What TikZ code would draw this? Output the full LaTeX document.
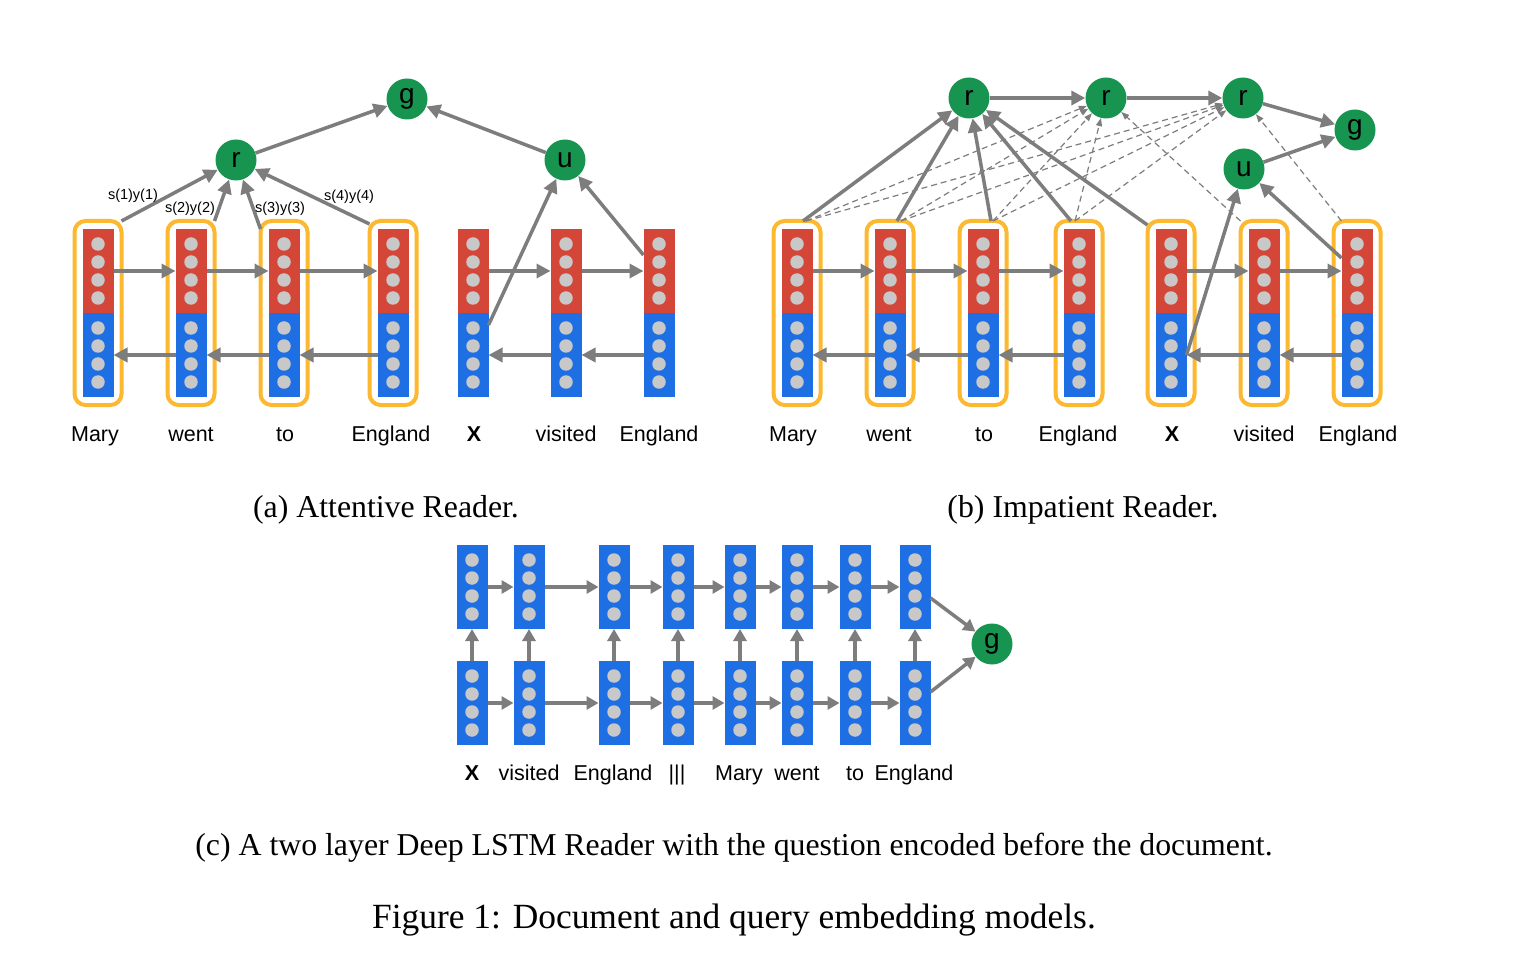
\documentclass[tikz,border=0pt]{standalone}
\usepackage{fontspec}
\setmainfont{Liberation Serif}
\setsansfont{Liberation Sans}
\usetikzlibrary{arrows.meta}
\definecolor{cred}{RGB}{212,70,56}
\definecolor{cblue}{RGB}{30,111,228}
\definecolor{cdot}{RGB}{200,200,200}
\definecolor{corange}{RGB}{252,184,46}
\definecolor{cgreen}{RGB}{22,148,80}
\definecolor{carrow}{RGB}{125,125,125}
\newcommand\fsz[1]{\fontsize{#1}{#1}\selectfont}
\tikzset{
 redbar/.style={rectangle,fill=cred,minimum width=31pt,minimum height=84pt,inner sep=0pt,outer sep=0pt},
 bluebar/.style={redbar,fill=cblue},
 dotc/.style={circle,fill=cdot,minimum size=13.5pt,inner sep=0pt},
 obox/.style={rectangle,rounded corners=11pt,draw=corange,line width=4pt,minimum width=47pt,minimum height=184pt,inner sep=0pt,outer sep=0pt},
 gnode/.style={circle,fill=cgreen,minimum size=41pt,inner sep=0pt,font=\sffamily\fsz{28}},
 arr/.style={draw=carrow,line width=3.5pt,-{Triangle[length=14pt,width=14pt]}},
 sarr/.style={draw=carrow,line width=3.5pt,-{Triangle[length=12pt,width=13pt]}},
 darr/.style={draw=carrow,line width=1.2pt,dash pattern=on 6pt off 4pt,-{Triangle[length=8pt,width=6pt]}},
 word/.style={font=\sffamily\fsz{21.5},anchor=base,inner sep=0pt},
 slab/.style={font=\sffamily\fsz{14.5},inner sep=0pt},
 captxt/.style={font=\fsz{31.8},anchor=base,inner sep=0pt},
}
% two-colour column: name, x
\newcommand\bicol[2]{%
  \node[redbar] (#1-r) at (#2,271) {};
  \node[bluebar] (#1-b) at (#2,355) {};
  \foreach \yy in {244,262,280,298,328,346,364,382} \node[dotc] (#1-d\yy) at (#2,\yy) {};
}
% deep lstm column: name, x
\newcommand\bluecol[2]{%
  \node[bluebar] (#1-t) at (#2,587) {};
  \node[bluebar] (#1-b) at (#2,703) {};
  \foreach \yy in {560,578,596,614,676,694,712,730} \node[dotc] (#1-d\yy) at (#2,\yy) {};
}
\begin{document}
\begin{tikzpicture}[x=1pt,y=-1pt]
\useasboundingbox (0,0) rectangle (1524,976);
\fill[white] (0,0) rectangle (1524,976);

% ================= (a) Attentive Reader =================
\foreach \n/\x in {a1/98,a2/191,a3/284,a4/393} \node[obox] (\n-box) at (\x,313) {};
\bicol{a1}{98}\bicol{a2}{191}\bicol{a3}{284}\bicol{a4}{393}
\bicol{a5}{473}\bicol{a6}{566}\bicol{a7}{659}

\foreach \p/\q in {a1/a2,a2/a3,a3/a4,a5/a6,a6/a7}{
  \draw[arr] (\p-r.east) -- (\q-r.west);
  \draw[arr] (\q-b.west) -- (\p-b.east);
}

\node[gnode] (ga) at (407,99) {g};
\node[gnode] (ra) at (236,160) {r};
\node[gnode] (ua) at (565,160) {u};

\draw[arr] (a1-box.north east) -- (ra);
\draw[arr] (a2-box.north east) -- (ra);
\draw[arr] ([yshift=-8pt]a3-box.north west) -- (ra);
\draw[arr] ([yshift=-3pt]a4-box.north west) -- (ra);
\draw[arr] (ra) -- (ga);
\draw[arr] (ua) -- (ga);
\draw[arr] ([yshift=-12pt]a5-b.north east) -- (ua);
\draw[arr] ([yshift=-26pt]a7-r.north west) -- (ua);

\node[slab] (s1) at (133,196) {s(1)y(1)};
\node[slab] (s2) at (190,209) {s(2)y(2)};
\node[slab] (s3) at (280,209) {s(3)y(3)};
\node[slab] (s4) at (349,197) {s(4)y(4)};

\node[word] (wa1) at (95,441) {Mary};
\node[word] (wa2) at (191,441) {went};
\node[word] (wa3) at (285,441) {to};
\node[word] (wa4) at (391,441) {England};
\node[word,font=\sffamily\bfseries\fsz{21.5}] (wa5) at (474,441) {X};
\node[word] (wa6) at (566,441) {visited};
\node[word] (wa7) at (659,441) {England};

\node[captxt] (capa) at (386,517) {(a) Attentive Reader.};

% ================= (b) Impatient Reader =================
\foreach \n/\x in {b1/797,b2/890,b3/983,b4/1079,b5/1171,b6/1264,b7/1357} \node[obox] (\n-box) at (\x,313) {};
\bicol{b1}{797}\bicol{b2}{890}\bicol{b3}{983}\bicol{b4}{1079}
\bicol{b5}{1171}\bicol{b6}{1264}\bicol{b7}{1357}

\foreach \p/\q in {b1/b2,b2/b3,b3/b4,b5/b6,b6/b7}{
  \draw[arr] (\p-r.east) -- (\q-r.west);
  \draw[arr] (\q-b.west) -- (\p-b.east);
}

\node[gnode] (rb1) at (969,98) {r};
\node[gnode] (rb2) at (1106,98) {r};
\node[gnode] (rb3) at (1243,98) {r};
\node[gnode] (gb) at (1355,130) {g};
\node[gnode] (ub) at (1244,169) {u};

% dashed attention to later r nodes
\foreach \n/\s in {b1/9,b2/11,b3/10,b4/-4}{
  \draw[darr] ([xshift=\s pt]\n-box.north) -- (rb2);
  \draw[darr] ([xshift=\s pt]\n-box.north) -- (rb3);
}
\draw[darr] (b6-box.north west) -- (rb2);
\draw[darr] ([xshift=8pt]b7-box.north west) -- (rb3);

\draw[arr] ([xshift=6pt]b1-box.north) -- (rb1);
\draw[arr] ([xshift=7pt]b2-box.north) -- (rb1);
\draw[arr] ([xshift=8pt]b3-box.north) -- (rb1);
\draw[arr] ([xshift=-8pt]b4-box.north) -- (rb1);
\draw[arr] ([yshift=-4pt]b5-box.north west) -- (rb1);
\draw[arr] (rb1) -- (rb2);
\draw[arr] (rb2) -- (rb3);
\draw[arr] (rb3) -- (gb);
\draw[arr] (ub) -- (gb);
\draw[arr] (b5-b.east) -- (ub);
\draw[arr] ([yshift=-29pt]b7-r.north west) -- (ub);

\node[word] (wb1) at (793,441) {Mary};
\node[word] (wb2) at (889,441) {went};
\node[word] (wb3) at (984,441) {to};
\node[word] (wb4) at (1078,441) {England};
\node[word,font=\sffamily\bfseries\fsz{21.5}] (wb5) at (1172,441) {X};
\node[word] (wb6) at (1264,441) {visited};
\node[word] (wb7) at (1358,441) {England};

\node[captxt] (capb) at (1083,517) {(b) Impatient Reader.};

% ================= (c) Deep LSTM Reader =================
\bluecol{c1}{472}\bluecol{c2}{529}\bluecol{c3}{614}\bluecol{c4}{678}
\bluecol{c5}{740}\bluecol{c6}{797}\bluecol{c7}{855}\bluecol{c8}{915}

\foreach \p/\q in {c1/c2,c2/c3,c3/c4,c4/c5,c5/c6,c6/c7,c7/c8}{
  \draw[sarr] (\p-t.east) -- (\q-t.west);
  \draw[sarr] (\p-b.east) -- (\q-b.west);
}
\foreach \p in {c1,c2,c3,c4,c5,c6,c7,c8}
  \draw[sarr] (\p-b.north) -- (\p-t.south);

\node[gnode] (gc) at (992,644) {g};
\draw[sarr] ([yshift=-11pt]c8-t.east) -- (gc);
\draw[sarr] ([yshift=11pt]c8-b.east) -- (gc);

\node[word,font=\sffamily\bfseries\fsz{21.5}] (wc1) at (472,780) {X};
\node[word] (wc2) at (529,780) {visited};
\node[word] (wc3) at (613,780) {England};
\node[word] (wc4) at (677,780) {|||};
\node[word] (wc5) at (739,780) {Mary};
\node[word] (wc6) at (797,780) {went};
\node[word] (wc7) at (855,780) {to};
\node[word] (wc8) at (914,780) {England};

\node[captxt] (capc) at (734,855) {(c) A two layer Deep LSTM Reader with the question encoded before the document.};
\node[captxt,font=\fsz{35.4}] (capf) at (734,928) {Figure 1: Document and query embedding models.};
\end{tikzpicture}
\end{document}
